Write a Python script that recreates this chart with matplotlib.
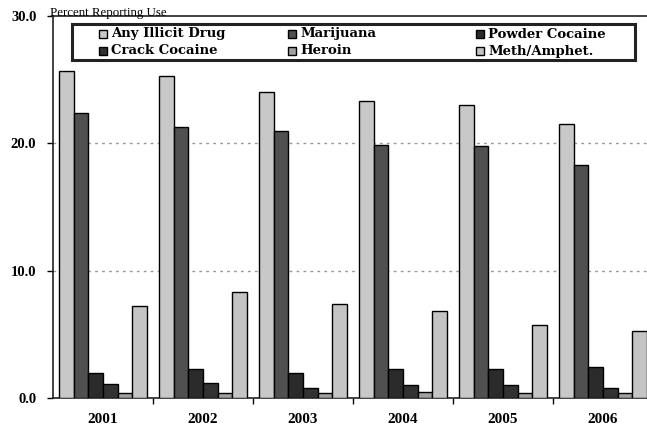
import matplotlib
matplotlib.use("Agg")
import matplotlib.pyplot as plt
from matplotlib.patches import Rectangle
import numpy as np

years = ["2001", "2002", "2003", "2004", "2005", "2006"]
series_names = ["Any Illicit Drug", "Marijuana", "Powder Cocaine",
                "Crack Cocaine", "Heroin", "Meth/Amphet."]
any_illicit = [25.7, 25.3, 24.0, 23.3, 23.0, 21.5]
marijuana = [22.4, 21.3, 21.0, 19.9, 19.8, 18.3]
powder_cocaine = [2.0, 2.3, 2.0, 2.3, 2.3, 2.4]
crack_cocaine = [1.1, 1.2, 0.8, 1.0, 1.0, 0.8]
heroin = [0.4, 0.4, 0.4, 0.5, 0.4, 0.4]
meth_amphet = [7.2, 8.3, 7.4, 6.8, 5.7, 5.3]
y_ticks = [0.0, 10.0, 20.0, 30.0]

values = [any_illicit, marijuana, powder_cocaine, crack_cocaine, heroin, meth_amphet]
colors = ["#c8c8c8", "#505050", "#2b2b2b", "#323232", "#a0a0a0", "#c4c4c4"]

plt.rcParams["font.family"] = ["DejaVu Serif"]

fig = plt.figure(figsize=(6.47, 4.30), dpi=100)
ax = fig.add_axes([53 / 647, 1 - 398 / 430, 600 / 647, 382 / 430])

x = np.arange(len(years))
w = 0.147
for k, (name, vals, c) in enumerate(zip(series_names, values, colors)):
    ax.bar(x + (k - 2.5) * w, vals, width=w, color=c, edgecolor="black",
           linewidth=1.0, label=name, zorder=3)

ax.set_xlim(-0.5, len(years) - 0.5)
ax.set_ylim(0, 30)
ax.set_yticks(y_ticks)
ax.set_yticklabels([f"{v:.1f}" for v in y_ticks], fontsize=10.5, fontweight="bold",
                   family="Liberation Serif")
ax.set_xticks(x)
ax.set_xticklabels(years, fontsize=11, fontweight="bold", family="Liberation Serif")
ax.tick_params(axis="x", which="major", length=0, pad=11)
ax.set_xticks(np.arange(0.5, len(years) - 0.5, 1.0), minor=True)
ax.tick_params(axis="x", which="minor", length=4, direction="out", width=1)
ax.tick_params(axis="y", length=4, direction="out", width=1, pad=8)

for v in [10, 20]:
    ax.axhline(v, color="#999999", linestyle=(0, (2, 3)), linewidth=1.0, zorder=1)

for s in ["left", "bottom", "top"]:
    ax.spines[s].set_linewidth(1.2)
    ax.spines[s].set_color("#222222")
ax.spines["right"].set_visible(False)

ax.text(-0.005, 0.993, "Percent Reporting Use", transform=ax.transAxes,
        fontsize=9.3, family="Liberation Serif", ha="left", va="bottom")

# Legend box: two rows of three evenly spaced entries
def ax_x(px):
    return (px - 53) / 600

def ax_y(py):
    return (398 - py) / 382

ax.add_patch(Rectangle((ax_x(72), ax_y(60)), ax_x(635) - ax_x(72), ax_y(24) - ax_y(60),
                       transform=ax.transAxes, facecolor="white", edgecolor="#222222",
                       linewidth=2.2, zorder=5, clip_on=False))
col_px = [99, 288, 476]
row_py = [34, 51]
mw, mh = 8 / 600, 8 / 382
for idx, (name, c) in enumerate(zip(series_names, colors)):
    r, col = divmod(idx, 3)
    xm, ym = ax_x(col_px[col]), ax_y(row_py[r])
    ax.add_patch(Rectangle((xm, ym - mh / 2), mw, mh, transform=ax.transAxes,
                           facecolor=c, edgecolor="black", linewidth=1.0, zorder=6,
                           clip_on=False))
    ax.text(xm + mw + 4 / 600, ym, name, transform=ax.transAxes, fontsize=9.5,
            fontweight="bold", ha="left", va="center", zorder=6)

fig.savefig("out.png", dpi=100)
